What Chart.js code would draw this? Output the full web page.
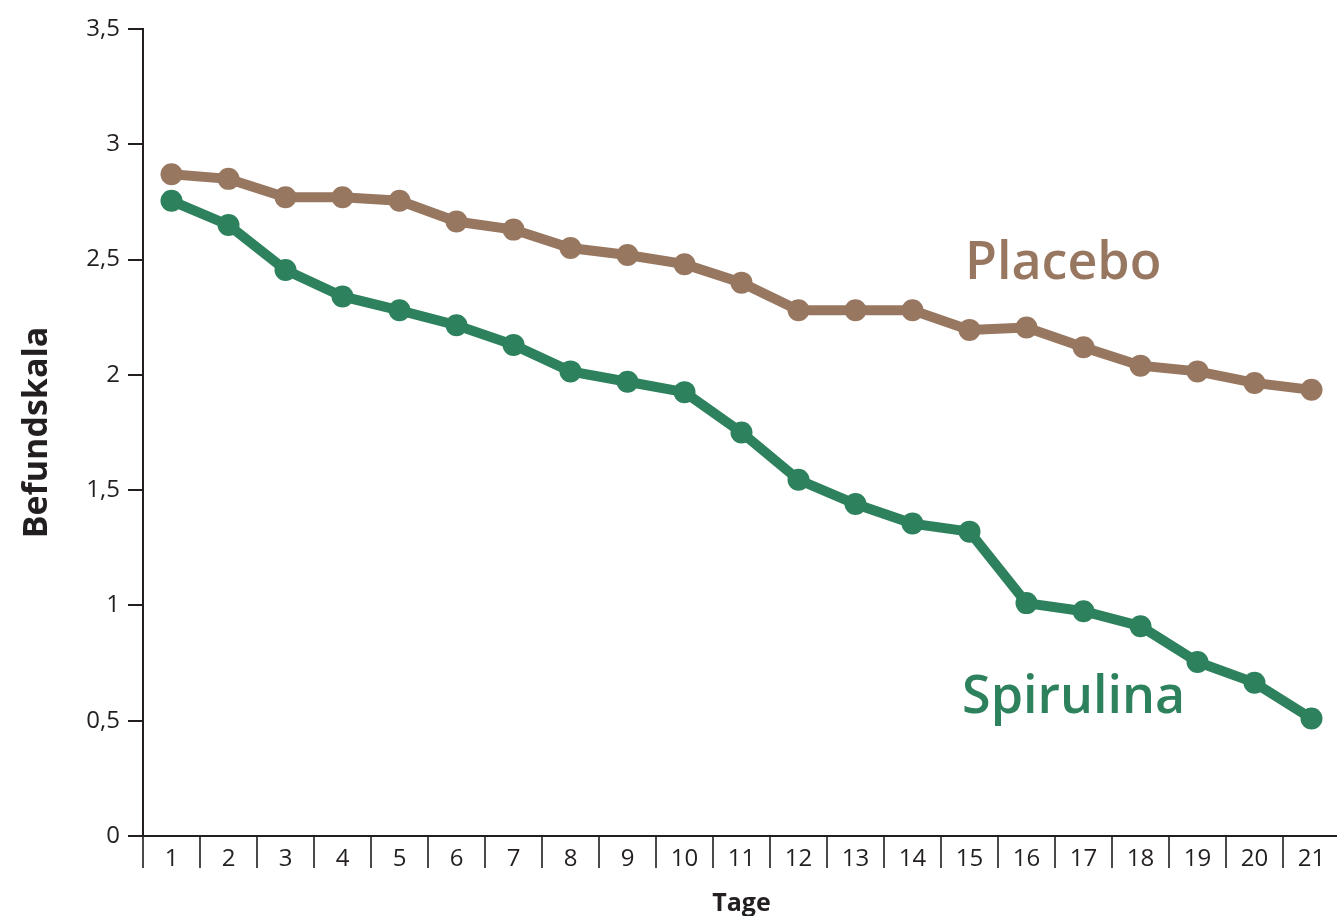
<!DOCTYPE html>
<html>
<head>
<meta charset="utf-8">
<script src="https://cdn.jsdelivr.net/npm/chart.js@4/dist/chart.umd.min.js"></script>
<style>
  html, body { margin: 0; padding: 0; background: #fff; overflow: hidden; }
  #wrap { width: 1340px; height: 916px; }
</style>
</head>
<body>
<div id="wrap"><canvas id="grafica"></canvas></div>
<script>
// Daten
const tage = ['1','2','3','4','5','6','7','8','9','10','11','12','13','14','15','16','17','18','19','20','21'];
const placebo = [2.87, 2.85, 2.77, 2.77, 2.755, 2.665, 2.63, 2.55, 2.52, 2.48, 2.40, 2.28, 2.28, 2.28, 2.195, 2.205, 2.12, 2.04, 2.015, 1.965, 1.935];
const spirulina = [2.755, 2.65, 2.455, 2.34, 2.28, 2.215, 2.13, 2.015, 1.97, 1.925, 1.75, 1.545, 1.44, 1.355, 1.32, 1.01, 0.975, 0.91, 0.755, 0.665, 0.51];
const yTicks = [0, 0.5, 1, 1.5, 2, 2.5, 3, 3.5];

// Beschriftungen der Kurven (Position in Datenkoordinaten: Index, Wert)
const kurvenLabels = [
    { text: 'Placebo', x: 13.92, y: 2.417, farbe: '#987761' },
    { text: 'Spirulina', x: 13.87, y: 0.534, farbe: '#2d815c' }
];

const BRAUN = '#987761';
const GRUEN = '#2d815c';
const DUNKEL = '#231f20';
const SCHRIFT = '"Open Sans", "Noto Sans", sans-serif';

const labelPlugin = {
    id: 'kurvenLabels',
    afterDatasetsDraw(chart) {
        const ctx = chart.ctx;
        const xs = chart.scales.x, ys = chart.scales.y;
        ctx.save();
        ctx.font = '600 52px ' + SCHRIFT;
        ctx.textAlign = 'left';
        ctx.textBaseline = 'alphabetic';
        kurvenLabels.forEach(l => {
            ctx.fillStyle = l.farbe;
            ctx.fillText(l.text, xs.getPixelForValue(l.x), ys.getPixelForValue(l.y));
        });
        ctx.restore();
    }
};

const ctx = document.getElementById('grafica').getContext('2d');
new Chart(ctx, {
    type: 'line',
    data: {
        labels: tage,
        datasets: [
            {
                label: 'Placebo',
                data: placebo,
                borderColor: BRAUN,
                backgroundColor: BRAUN,
                borderWidth: 10,
                pointRadius: 11,
                pointBorderWidth: 0,
                tension: 0
            },
            {
                label: 'Spirulina',
                data: spirulina,
                borderColor: GRUEN,
                backgroundColor: GRUEN,
                borderWidth: 10,
                pointRadius: 11,
                pointBorderWidth: 0,
                tension: 0
            }
        ]
    },
    options: {
        responsive: true,
        maintainAspectRatio: false,
        animation: false,
        layout: { autoPadding: false, padding: { top: 29, right: 0, bottom: 0, left: 0 } },
        plugins: {
            legend: { display: false },
            tooltip: { enabled: false }
        },
        scales: {
            x: {
                offset: true,
                grid: {
                    offset: true,
                    drawOnChartArea: false,
                    drawTicks: true,
                    tickLength: 32,
                    lineWidth: 2,
                    color: c => c.index === undefined ? 'rgba(0,0,0,0)' : '#4a4a4a'
                },
                border: { color: DUNKEL, width: 2 },
                ticks: {
                    color: DUNKEL,
                    font: { family: SCHRIFT, size: 24 },
                    padding: -23,
                    maxRotation: 0,
                    autoSkip: false
                },
                title: {
                    display: true,
                    text: 'Tage',
                    color: DUNKEL,
                    font: { family: SCHRIFT, size: 25, weight: 'bold', lineHeight: 1.0 },
                    padding: { top: 0, bottom: 0 }
                },
                afterFit: s => { s.height = 80; s.paddingLeft = 0; s.paddingRight = 0; }
            },
            y: {
                min: 0,
                max: 3.5,
                afterBuildTicks: s => { s.ticks = yTicks.map(v => ({ value: v })); },
                grid: {
                    drawOnChartArea: false,
                    drawTicks: true,
                    tickLength: 15,
                    lineWidth: 2,
                    color: DUNKEL
                },
                border: { color: DUNKEL, width: 2 },
                ticks: {
                    color: DUNKEL,
                    font: { family: SCHRIFT, size: 24 },
                    padding: 8,
                    callback: v => String(v).replace('.', ',')
                },
                title: {
                    display: true,
                    text: 'Befundskala',
                    color: DUNKEL,
                    font: { family: SCHRIFT, size: 34, weight: 'bold' },
                    padding: { top: 17, bottom: 0 }
                },
                afterFit: s => { s.width = 143; }
            }
        }
    },
    plugins: [labelPlugin]
});
</script>
</body>
</html>
